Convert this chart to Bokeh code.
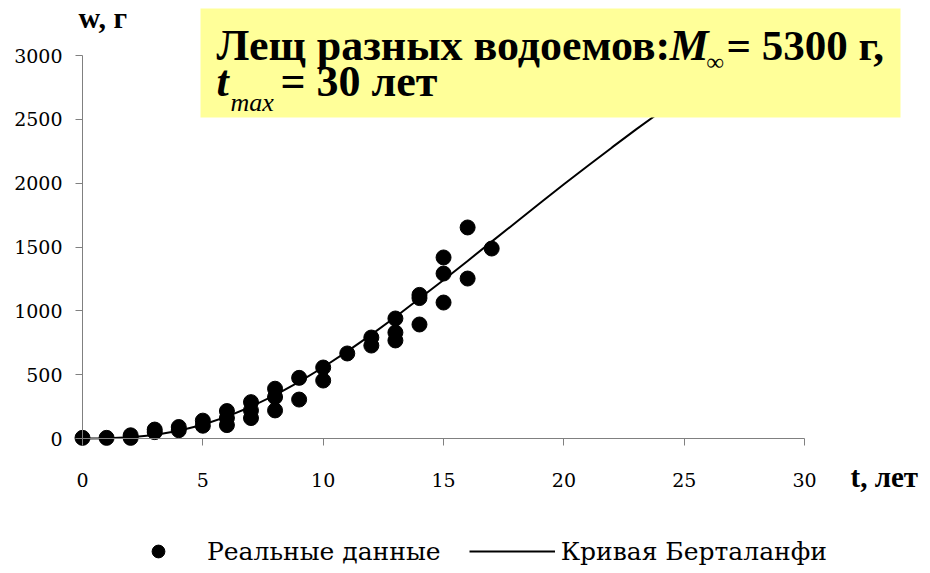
from bokeh.plotting import figure
from bokeh.models import Range1d, Label, BoxAnnotation, Legend, LegendItem, FixedTicker
from bokeh.embed import file_html
from bokeh.resources import INLINE

# ---- data ----
ages = [0, 1, 2, 2, 3, 3, 4, 4, 5, 5, 6, 6, 6, 7, 7, 7, 8, 8, 8, 9, 9, 10, 10, 11,
        12, 12, 13, 13, 13, 14, 14, 14, 15, 15, 15, 16, 16, 17]
weights = [5, 5, 25, 5, 70, 50, 90, 65, 140, 100, 215, 160, 105, 285, 220, 160,
           390, 325, 220, 475, 305, 556, 454, 666, 791, 728, 940, 830, 768,
           1125, 1100, 893, 1418, 1292, 1065, 1653, 1253, 1488]
curve_t = [0, 1, 2, 3, 4, 5, 6, 7, 8, 9, 10, 11, 12, 13, 14, 15, 16, 17, 18, 19,
           20, 21, 22, 23, 24, 25, 26, 27, 28, 29, 30]
curve_w = [0, 1, 9, 28, 61, 108, 171, 249, 340, 444, 558, 682, 814, 952, 1096,
           1242, 1391, 1542, 1692, 1842, 1991, 2136, 2280, 2421, 2557, 2690,
           2819, 2943, 3063, 3178, 3290]
x_ticks = [0, 5, 10, 15, 20, 25, 30]
y_ticks = [0, 500, 1000, 1500, 2000, 2500, 3000]

# ---- layout (canvas pixels) ----
W, H = 922, 567
X0, XS = 82, 24.07        # pixel of t=0, pixels per year
Y0, YS = 438, 383 / 3000  # pixel of w=0, pixels per gram

p = figure(frame_width=W, frame_height=H,
           x_range=Range1d(-X0 / XS, (W - X0) / XS),
           y_range=Range1d(-(H - Y0) / YS, Y0 / YS),
           output_backend="svg", toolbar_location=None,
           min_border=0, min_border_left=0, min_border_right=0,
           min_border_top=0, min_border_bottom=0)
p.outline_line_color = None
p.grid.visible = False
p.background_fill_color = "white"
p.border_fill_color = "white"

for ax, ticks, bnds in ((p.xaxis, x_ticks, (0, 30)), (p.yaxis, y_ticks, (0, 3000))):
    ax.fixed_location = 0
    ax.bounds = bnds
    ax.ticker = FixedTicker(ticks=ticks)
    ax.minor_tick_line_color = None
    ax.axis_line_color = "#808080"
    ax.major_tick_line_color = "#808080"
    ax.major_tick_in = 0
    ax.major_tick_out = 7
    ax.major_label_text_font = "DejaVu Serif"
    ax.major_label_text_font_size = "19px"
    ax.major_label_text_color = "black"
p.xaxis.major_label_standoff = 27
p.yaxis.major_label_standoff = 13

line_r = p.line(curve_t, curve_w, line_color="black", line_width=2)
pts_r = p.scatter(ages, weights, size=15, marker="circle",
                  fill_color="black", line_color="black")


def sy(py):
    return H - py


# title box
p.add_layout(BoxAnnotation(left=200, right=900, bottom=sy(117), top=sy(8),
                           left_units="screen", right_units="screen",
                           bottom_units="screen", top_units="screen",
                           fill_color="#FFFF99", fill_alpha=1.0, line_color=None))


def lab(text, x, base, size, style="bold", font="Liberation Serif"):
    # base: wanted baseline in page pixels (corrected for the label's offset)
    y = sy(base - 0.37 * size)
    p.add_layout(Label(x=x, y=y, x_units="screen", y_units="screen",
                       text=text, text_font=font, text_font_style=style,
                       text_font_size=f"{size}px", text_color="black",
                       text_align="left", text_baseline="alphabetic"))


lab("Лещ разных водоемов:", 216, 61, 44)
lab("M", 669, 61, 44, "bold italic")
lab("∞", 706, 70, 24)
lab("= 5300 г,", 726, 61, 43)
lab("t", 216, 97, 44, "bold italic")
lab("max", 230, 112, 26, "italic")
lab("= 30 лет", 280, 97, 44)

# axis titles
lab("w, г", 78, 28, 30)
lab("t, лет", 850, 487, 29)

legend = Legend(items=[LegendItem(label="Реальные данные", renderers=[pts_r]),
                       LegendItem(label="Кривая Берталанфи", renderers=[line_r])],
                orientation="horizontal", location=(115, sy(567)),
                glyph_width=86, glyph_height=32, label_standoff=6, spacing=28,
                padding=0, margin=0, border_line_color=None,
                background_fill_alpha=0,
                label_text_font="DejaVu Serif",
                label_text_font_size="25px",
                label_text_color="black")
p.add_layout(legend, "center")

open("out.html", "w").write(file_html(p, INLINE))
